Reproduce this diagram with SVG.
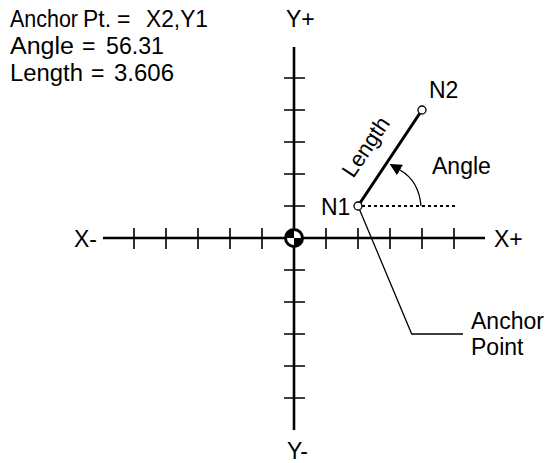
<svg xmlns="http://www.w3.org/2000/svg" width="551" height="463" viewBox="0 0 551 463">
<style>
text{font-family:"Liberation Sans",Arial,sans-serif;font-size:23px;fill:#000}
.axis{stroke:#000;stroke-width:2.6;fill:none}
.tick{stroke:#000;stroke-width:1.6;fill:none}
.pt{fill:#fff;stroke:#000;stroke-width:1.3}
.thin{stroke:#000;stroke-width:1.3;fill:none}
</style>
<defs>
<marker id="ah" viewBox="0 0 12 12" markerWidth="12" markerHeight="12" refX="0" refY="6" orient="auto" markerUnits="userSpaceOnUse">
<path d="M0,0 L12,6 L0,12 z" fill="#000"/>
</marker>
</defs>
<rect width="551" height="463" fill="#fff"/>
<g id="info">
<text y="27"><tspan x="10" textLength="68" lengthAdjust="spacingAndGlyphs">Anchor</tspan><tspan x="83" textLength="28" lengthAdjust="spacingAndGlyphs">Pt.</tspan><tspan x="117">=</tspan><tspan x="146" textLength="62" lengthAdjust="spacingAndGlyphs">X2,Y1</tspan></text>
<text y="54"><tspan x="10" textLength="64" lengthAdjust="spacingAndGlyphs">Angle</tspan><tspan x="82">=</tspan><tspan x="106" textLength="58" lengthAdjust="spacingAndGlyphs">56.31</tspan></text>
<text y="81"><tspan x="10" textLength="73" lengthAdjust="spacingAndGlyphs">Length</tspan><tspan x="91">=</tspan><tspan x="114" textLength="60" lengthAdjust="spacingAndGlyphs">3.606</tspan></text>
</g>
<g id="axes">
<line class="axis" x1="103" y1="238" x2="485" y2="238"/>
<line class="axis" x1="294" y1="47" x2="294" y2="430"/>
<path class="tick" d="M134,228V249M166,228V249M198,228V249M230,228V249M262,228V249M326,228V249M358,228V249M390,228V249M422,228V249M454,228V249"/>
<path class="tick" d="M284,78H305M284,110H305M284,142H305M284,174H305M284,206H305M284,270H305M284,302H305M284,334H305M284,366H305M284,398H305"/>
<text x="74" y="247">X-</text>
<text x="494" y="247">X+</text>
<text x="286" y="27">Y+</text>
<text x="287" y="459">Y-</text>
</g>
<g id="origin">
<circle cx="294" cy="238" r="8.5" fill="#fff" stroke="#000" stroke-width="3"/>
<path d="M294,238 L285.5,238 A8.5,8.5 0 0,1 294,229.5 Z M294,238 L302.5,238 A8.5,8.5 0 0,1 294,246.5 Z" fill="#000"/>
</g>
<g id="connectors">
<line x1="358" y1="206" x2="422" y2="110" stroke="#000" stroke-width="3"/>
<line x1="362" y1="206" x2="456" y2="206" stroke="#000" stroke-width="2" stroke-dasharray="3,3"/>
<path class="thin" d="M421,206 Q419,181 400,170" marker-end="url(#ah)"/>
<polyline class="thin" points="359.5,209.5 411.7,334 463,334"/>
</g>
<g id="n1">
<circle class="pt" cx="358" cy="206" r="4"/>
<text x="321" y="215">N1</text>
</g>
<g id="n2">
<circle class="pt" cx="422" cy="110" r="4"/>
<text x="429" y="98">N2</text>
</g>
<g id="labels">
<text text-anchor="middle" transform="translate(372,151) rotate(-56.31)" style="font-size:22px">Length</text>
<text x="432" y="174">Angle</text>
<text x="471" y="329">Anchor</text>
<text x="471" y="355">Point</text>
</g>
</svg>
